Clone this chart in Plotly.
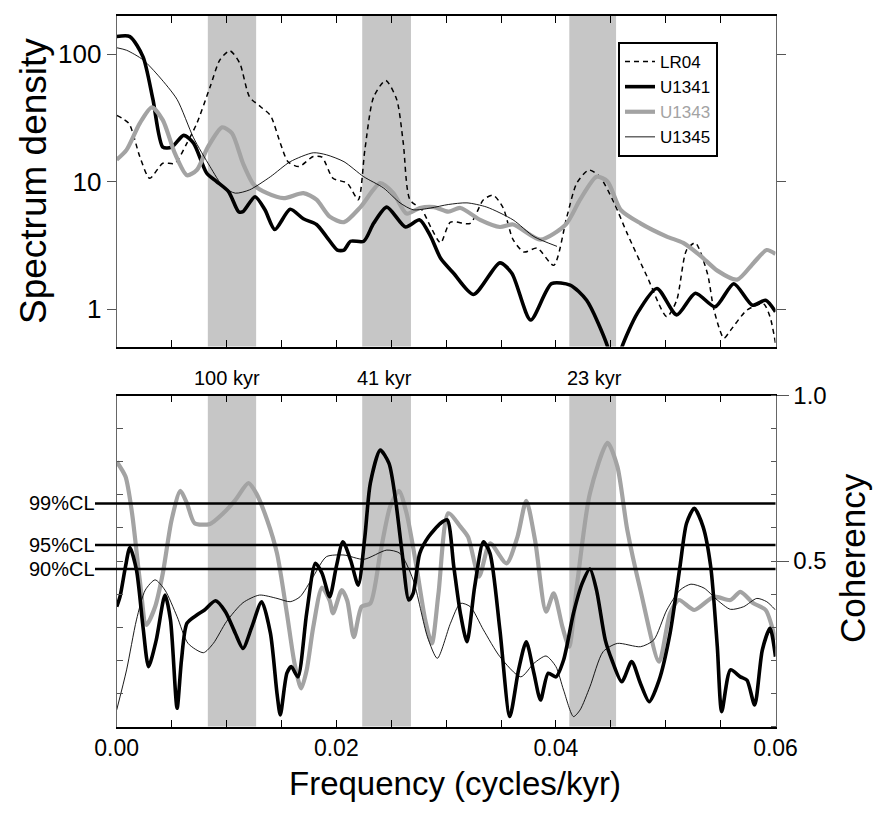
import plotly.graph_objects as go

FONT = "Liberation Sans, Arial, sans-serif"

# ---------------- data ----------------
series_names = ["LR04", "U1341", "U1343", "U1345"]

# Spectrum density (top panel)
f_lr04 = [0, 0.0011, 0.0021, 0.0030, 0.0042, 0.0053, 0.0064, 0.0073, 0.0085, 0.0094, 0.0103, 0.0112,
          0.0121, 0.0131, 0.0140, 0.0149, 0.0156, 0.0166, 0.0179, 0.0187, 0.0197, 0.0210, 0.0220,
          0.0226, 0.0234, 0.0245, 0.0255, 0.0261, 0.0267, 0.0278, 0.0286, 0.0295, 0.0304, 0.0322,
          0.0334, 0.0343, 0.0352, 0.0361, 0.0371, 0.0383, 0.0398, 0.0410, 0.0419, 0.0430, 0.0440,
          0.0453, 0.0465, 0.0483, 0.0501, 0.0510, 0.0519, 0.0527, 0.0538, 0.0544, 0.0553, 0.0559,
          0.0574, 0.0589, 0.0595, 0.0600]
s_lr04 = [33, 28.6, 15.7, 10.6, 13.9, 13.9, 20, 28.6, 55, 90, 106, 85,
          46, 38.6, 33, 20, 14.3, 13.1, 15.7, 15.5, 10.6, 9.7, 7.2,
          17.7, 46, 62, 44, 20, 7.2, 6.0, 4.4, 3.3, 4.8, 4.7,
          7.2, 7.8, 6.2, 3.5, 2.8, 3.0, 2.2, 5.3, 9.7, 12.3, 10.9,
          6.8, 3.9, 1.8, 0.87, 1.17, 2.9, 3.3, 1.9, 0.98, 0.59, 0.68,
          0.98, 1.1, 0.87, 0.54]

f_u1341 = [0, 0.0012, 0.0024, 0.0033, 0.0042, 0.0050, 0.0061, 0.0070, 0.0082, 0.0091, 0.0102, 0.0111,
           0.0115, 0.0126, 0.0135, 0.0144, 0.0158, 0.0170, 0.0182, 0.0191, 0.0201, 0.0207, 0.0213,
           0.0225, 0.0234, 0.0246, 0.0263, 0.0276, 0.0286, 0.0295, 0.0307, 0.0325, 0.0349, 0.0360,
           0.0377, 0.0396, 0.0413, 0.0428, 0.0447, 0.0453, 0.0460, 0.0474, 0.0492, 0.0510, 0.0527,
           0.0545, 0.0562, 0.0579, 0.0591, 0.0600]
s_u1341 = [137, 137, 95, 44, 18.6, 18.6, 23, 20, 11.6, 10, 8.3, 5.8,
           5.8, 7.6, 6.0, 4.2, 6.05, 5.1, 4.6, 3.7, 2.9, 2.9, 3.4,
           3.4, 4.7, 6.3, 4.4, 5.0, 3.7, 2.5, 1.9, 1.3, 2.3, 1.9,
           0.82, 1.58, 1.54, 1.17, 0.51, 0.3, 0.5, 0.92, 1.45, 0.9, 1.33,
           1.04, 1.58, 1.07, 1.17, 0.95]

f_u1343 = [0, 0.0009, 0.0021, 0.0032, 0.0042, 0.0053, 0.0064, 0.0073, 0.0083, 0.0096, 0.0105, 0.0115,
           0.0125, 0.0137, 0.0152, 0.0170, 0.0182, 0.0194, 0.0207, 0.0222, 0.0240, 0.0252, 0.0264,
           0.0276, 0.0289, 0.0302, 0.0313, 0.0331, 0.0349, 0.0361, 0.0386, 0.0409, 0.0422, 0.0437,
           0.0447, 0.0459, 0.0477, 0.0501, 0.0516, 0.0532, 0.0547, 0.0565, 0.0580, 0.0592, 0.0600]
s_u1343 = [14.8, 17.7, 28.6, 38.2, 30.3, 16.6, 11.2, 12.3, 18.6, 26.6, 23.9, 13.9,
           9.4, 8.1, 7.4, 8.1, 7.2, 5.3, 4.8, 6.3, 9.7, 8.1, 5.6,
           6.2, 6.3, 5.8, 6.2, 5.0, 4.4, 4.6, 3.5, 4.6, 7.2, 10.9,
           10.0, 6.0, 4.7, 3.7, 3.3, 2.6, 2.0, 1.7, 2.3, 2.9, 2.7]

f_u1345 = [0, 0.0009, 0.0024, 0.0039, 0.0055, 0.0070, 0.0085, 0.0097, 0.0108, 0.0121, 0.0140, 0.0158,
           0.0179, 0.0191, 0.0207, 0.0225, 0.0243, 0.0258, 0.0270, 0.0286, 0.0302, 0.0319, 0.0337,
           0.0361, 0.0380, 0.0401]
s_u1345 = [112, 107, 90, 66, 44, 22, 13.1, 9.1, 8.1, 8.6, 10.9, 14.3,
           16.8, 16.2, 14.3, 10.9, 8.9, 6.8, 6.0, 6.2, 6.6, 6.8, 6.3,
           5.0, 3.7, 3.1]

# Coherency (bottom panel)
fc_u1341 = [0, 0.0003, 0.0008, 0.0012, 0.0018, 0.0024, 0.0029, 0.0036, 0.0044, 0.0049, 0.0055, 0.0059,
            0.0064, 0.0073, 0.0080, 0.0090, 0.0099, 0.0108, 0.0115, 0.0123, 0.0132, 0.0140, 0.0146,
            0.0149, 0.0155, 0.0159, 0.0165, 0.0173, 0.0181, 0.0187, 0.0194, 0.0200, 0.0206, 0.0213,
            0.0220, 0.0226, 0.0231, 0.0240, 0.0248, 0.0254, 0.0260, 0.0266, 0.0270, 0.0276, 0.0284,
            0.0295, 0.0301, 0.0307, 0.0313, 0.0319, 0.0326, 0.0334, 0.0340, 0.0349, 0.0358, 0.0366,
            0.0373, 0.0380, 0.0386, 0.0393, 0.0400, 0.0407, 0.0416, 0.0424, 0.0431, 0.0437, 0.0445,
            0.0451, 0.0460, 0.0469, 0.0477, 0.0485, 0.0494, 0.0504, 0.0513, 0.0519, 0.0526, 0.0534,
            0.0541, 0.0547, 0.0551, 0.0559, 0.0568, 0.0574, 0.0581, 0.0588, 0.0595, 0.0600]
c_u1341 = [0.362, 0.392, 0.483, 0.541, 0.473, 0.30, 0.181, 0.261, 0.397, 0.322, 0.055, 0.201,
           0.312, 0.337, 0.352, 0.38, 0.347, 0.282, 0.236, 0.30, 0.377, 0.282, 0.10,
           0.035, 0.161, 0.181, 0.15, 0.342, 0.493, 0.463, 0.392, 0.483, 0.558, 0.503,
           0.427, 0.573, 0.735, 0.835, 0.795, 0.684, 0.523, 0.382, 0.402, 0.523, 0.573,
           0.614, 0.624, 0.483, 0.342, 0.256, 0.422, 0.558, 0.523, 0.292, 0.03, 0.171,
           0.256, 0.161, 0.08, 0.161, 0.15, 0.201, 0.342, 0.433, 0.476, 0.412, 0.261,
           0.201, 0.135, 0.196, 0.13, 0.075, 0.14, 0.282, 0.483, 0.614, 0.659, 0.604,
           0.483, 0.241, 0.045, 0.171, 0.15, 0.14, 0.065, 0.231, 0.297, 0.211]

fc_u1343 = [0, 0.0008, 0.0014, 0.0021, 0.0027, 0.0035, 0.0042, 0.0050, 0.0058, 0.0064, 0.0071, 0.0085,
            0.0097, 0.0108, 0.0120, 0.0127, 0.0137, 0.0146, 0.0155, 0.0162, 0.0168, 0.0173, 0.0179,
            0.0187, 0.0194, 0.0197, 0.0205, 0.0210, 0.0216, 0.0223, 0.0231, 0.0240, 0.0249, 0.0257,
            0.0264, 0.0273, 0.0281, 0.0287, 0.0293, 0.0302, 0.0313, 0.0320, 0.0330, 0.0340, 0.0355,
            0.0365, 0.0373, 0.0381, 0.0391, 0.0398, 0.0406, 0.0412, 0.0419, 0.0431, 0.0447, 0.0456,
            0.0465, 0.0477, 0.0494, 0.0504, 0.0512, 0.0526, 0.0544, 0.0559, 0.0568, 0.0580, 0.0591,
            0.0600]
c_u1343 = [0.80, 0.755, 0.644, 0.443, 0.307, 0.362, 0.463, 0.624, 0.712, 0.674, 0.614, 0.612,
           0.644, 0.684, 0.735, 0.705, 0.624, 0.523, 0.342, 0.19, 0.115, 0.17, 0.30,
           0.42, 0.38, 0.342, 0.412, 0.38, 0.27, 0.362, 0.372, 0.523, 0.664, 0.712,
           0.644, 0.483, 0.322, 0.251, 0.40, 0.644, 0.604, 0.573, 0.453, 0.553, 0.493,
           0.573, 0.682, 0.563, 0.347, 0.402, 0.30, 0.241, 0.422, 0.705, 0.857, 0.785,
           0.594, 0.412, 0.196, 0.342, 0.382, 0.352, 0.392, 0.382, 0.407, 0.372, 0.352,
           0.261]

fc_u1345 = [0, 0.0009, 0.0018, 0.0026, 0.0035, 0.0044, 0.0055, 0.0065, 0.0079, 0.0088, 0.0100, 0.0115,
            0.0130, 0.0146, 0.0158, 0.0167, 0.0179, 0.0191, 0.0207, 0.0225, 0.0246, 0.0258, 0.0270,
            0.0283, 0.0292, 0.0304, 0.0313, 0.0322, 0.0334, 0.0349, 0.0368, 0.0380, 0.0391, 0.0400,
            0.0407, 0.0416, 0.0422, 0.0431, 0.0443, 0.0456, 0.0477, 0.0489, 0.0501, 0.0513, 0.0523,
            0.0535, 0.0547, 0.0559, 0.0571, 0.0583, 0.0592, 0.0600]
c_u1345 = [0.05, 0.171, 0.322, 0.412, 0.443, 0.412, 0.332, 0.251, 0.223, 0.251, 0.317, 0.374,
           0.397, 0.387, 0.377, 0.392, 0.453, 0.513, 0.518, 0.505, 0.533, 0.523, 0.443,
           0.271, 0.206, 0.312, 0.372, 0.362, 0.292, 0.211, 0.15, 0.191, 0.213, 0.181,
           0.11, 0.03, 0.05, 0.12, 0.226, 0.251, 0.241, 0.261, 0.352, 0.412, 0.43,
           0.418, 0.382, 0.354, 0.362, 0.387, 0.377, 0.352]

# orbital bands (cycles/kyr) and labels
band_lo = [0.0083, 0.02236, 0.04122]
band_hi = [0.0127, 0.0268, 0.04548]
periods = [100, 41, 23]
period_labels = ["100 kyr", "41 kyr", "23 kyr"]

# confidence levels
cl_values = [0.674, 0.548, 0.476]
cl_labels = ["99%CL", "95%CL", "90%CL"]

x_ticks = [0.005 * i for i in range(13)]
x_ticktext = ["%.2f" % (0.005 * i) if i % 4 == 0 else "" for i in range(13)]

# ---------------- styles ----------------
styles = {
    "LR04": dict(color="black", width=1.5, dash="5px,4px"),
    "U1341": dict(color="black", width=3.6),
    "U1343": dict(color="#a3a3a3", width=4.2),
    "U1345": dict(color="black", width=0.9),
}
legend_names = {
    "LR04": "LR04",
    "U1341": "U1341",
    "U1343": '<span style="color:#a3a3a3">U1343</span>',
    "U1345": "U1345",
}

# the page body adds an 8px margin: figure is 877x812 placed at (8, 8)
W, H, OFF = 877, 812, 8


def px(xp):
    return (xp - OFF) / W


def py(yp):
    return 1 - (yp - OFF) / H


fig = go.Figure()

spec = {"LR04": (f_lr04, s_lr04), "U1341": (f_u1341, s_u1341),
        "U1343": (f_u1343, s_u1343), "U1345": (f_u1345, s_u1345)}
for name in series_names:
    fx, fy = spec[name]
    fig.add_trace(go.Scatter(x=fx, y=fy, mode="lines", name=legend_names[name],
                             line=dict(shape="spline", smoothing=0.7, **styles[name]),
                             xaxis="x", yaxis="y"))

coh = {"U1343": (fc_u1343, c_u1343), "U1345": (fc_u1345, c_u1345), "U1341": (fc_u1341, c_u1341)}
for name in ["U1343", "U1345", "U1341"]:
    fx, fy = coh[name]
    fig.add_trace(go.Scatter(x=fx, y=fy, mode="lines", name=name, showlegend=False,
                             line=dict(shape="spline", smoothing=0.7, **styles[name]),
                             xaxis="x2", yaxis="y2"))

XD = [px(116.7), px(775.5)]
Y1 = [py(346.5), py(16)]
Y2 = [py(726.5), py(395.5)]

shapes = []
for lo, hi in zip(band_lo, band_hi):
    for yr in ["y domain", "y2 domain"]:
        shapes.append(dict(type="rect", xref="x", yref=yr, x0=lo, x1=hi, y0=0, y1=1,
                           fillcolor="#c6c6c6", line=dict(width=0), layer="below"))
for v in cl_values:
    shapes.append(dict(type="line", xref="paper", yref="y2", x0=px(95), x1=XD[1], y0=v, y1=v,
                       line=dict(color="black", width=2.5), layer="above"))

annotations = []
for v, t in zip(cl_values, cl_labels):
    annotations.append(dict(x=px(97), y=v, xref="paper", yref="y2", text=t, showarrow=False,
                            xanchor="right", yanchor="middle", font=dict(size=20, color="black", family=FONT)))
for p, t in zip(periods, period_labels):
    annotations.append(dict(x=1.0 / p, y=py(378), xref="x", yref="paper", text=t, showarrow=False,
                            xanchor="center", yanchor="middle", font=dict(size=20, color="black", family=FONT)))
annotations.append(dict(x=px(33), y=py(181), xref="paper", yref="paper", text="Spectrum density",
                        textangle=-90, showarrow=False, xanchor="center", yanchor="middle",
                        font=dict(size=37, color="black", family=FONT)))
annotations.append(dict(x=px(852), y=py(558), xref="paper", yref="paper", text="Coherency",
                        textangle=-90, showarrow=False, xanchor="center", yanchor="middle",
                        font=dict(size=35, color="black", family=FONT)))
annotations.append(dict(x=px(455), y=py(783), xref="paper", yref="paper",
                        text="Frequency (cycles/kyr)", showarrow=False, xanchor="center", yanchor="middle",
                        font=dict(size=33, color="black", family=FONT)))

axis_common = dict(showgrid=False, zeroline=False, automargin=False)

fig.update_layout(
    template="none",
    width=W, height=H,
    margin=dict(l=0, r=0, t=0, b=0, pad=0),
    paper_bgcolor="white", plot_bgcolor="white",
    font=dict(family=FONT, color="black"),
    showlegend=True,
    legend=dict(x=px(618), y=py(42), xanchor="left", yanchor="top",
                bordercolor="black", borderwidth=2, bgcolor="white",
                font=dict(size=17, family=FONT, color="black"), tracegroupgap=0,
                itemwidth=30),
    xaxis=dict(domain=XD, range=[0, 0.06], anchor="y", showticklabels=False,
               tickvals=x_ticks, ticks="inside", ticklen=7, tickcolor="black",
               showline=True, linecolor="black", linewidth=1.5, mirror="ticks", **axis_common),
    yaxis=dict(domain=Y1, type="log", range=[-0.294, 2.298], anchor="x",
               tickvals=[1, 10, 100], ticktext=["1", "10", "100"], ticks="outside", ticklen=9,
               tickcolor="#555", tickfont=dict(size=26, family=FONT, color="black"),
               showline=True, linecolor="#666", linewidth=1, mirror="ticks", **axis_common),
    xaxis2=dict(domain=XD, range=[0, 0.06], anchor="y2", tickvals=x_ticks, ticktext=x_ticktext,
                ticks="inside", ticklen=7, tickcolor="black",
                tickfont=dict(size=23, family=FONT, color="black"),
                showline=True, linecolor="black", linewidth=1.5, mirror="ticks", **axis_common),
    yaxis2=dict(domain=Y2, range=[0, 1], anchor="x2", tickvals=[0.1 * i for i in range(11)],
                showticklabels=False, ticks="inside", ticklen=6, tickcolor="#555",
                showline=True, linecolor="#666", linewidth=1, mirror=False, **axis_common),
    yaxis3=dict(domain=Y2, range=[0, 1], anchor="x2", overlaying="y2", side="right",
                tickvals=[0.5, 1.0], ticktext=["0.5", "1.0"], ticks="outside", ticklen=12,
                tickcolor="#555", tickfont=dict(size=24, family=FONT, color="black"),
                minor=dict(tickvals=[0.1 * i for i in range(11)], ticks="inside", ticklen=5, tickcolor="#555"),
                showline=True, linecolor="#666", linewidth=1, **axis_common),
    shapes=shapes,
    annotations=annotations,
)

# invisible point to activate the right-hand coherency axis
fig.add_trace(go.Scatter(x=[0], y=[0], xaxis="x2", yaxis="y3", mode="markers",
                         marker=dict(opacity=0), showlegend=False, hoverinfo="skip"))

fig.write_html("out.html")
